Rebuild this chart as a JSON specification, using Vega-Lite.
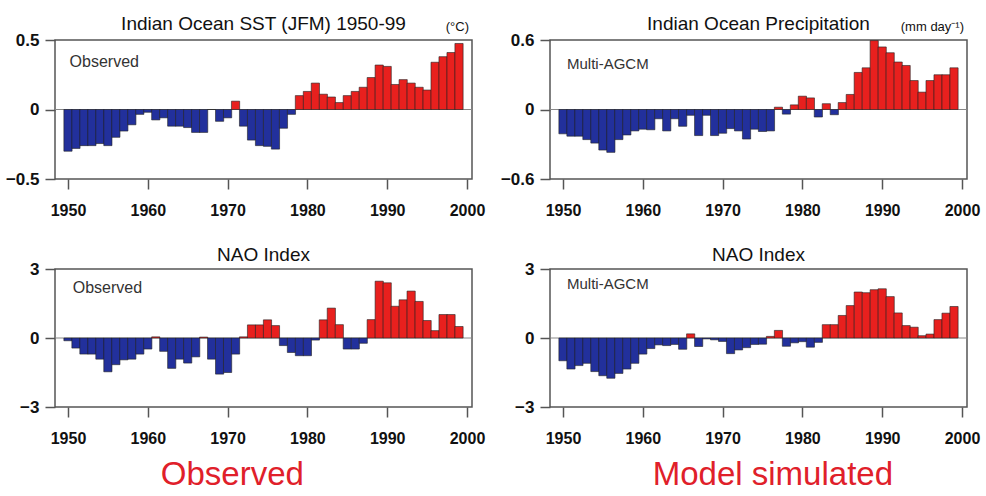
{
  "$schema": "https://vega.github.io/schema/vega-lite/v6.json",
  "background": "white",
  "padding": {"left": 4, "top": 14, "right": 5, "bottom": 5},
  "spacing": 13,
  "config": {
    "view": {"stroke": "#555", "strokeWidth": 1.5},
    "font": "Liberation Sans",
    "axis": {"domain": false, "grid": false, "tickColor": "#555", "tickWidth": 1.5, "tickSize": 10, "labelColor": "#111", "labelFont": "Liberation Sans", "labelFontSize": 16, "labelFontWeight": "bold"},
    "axisY": {"labelPadding": 6, "labelFontWeight": "bold", "labelFontSize": 17},
    "axisX": {"labelPadding": 13},
    "text": {"font": "Liberation Sans"}
  },
  "datasets": {
    "years": [
      {"year": 1950, "sst": -0.30, "pr": -0.21, "naoObs": -0.12, "naoMod": -0.99},
      {"year": 1951, "sst": -0.28, "pr": -0.23, "naoObs": -0.44, "naoMod": -1.35},
      {"year": 1952, "sst": -0.26, "pr": -0.23, "naoObs": -0.70, "naoMod": -1.20},
      {"year": 1953, "sst": -0.26, "pr": -0.26, "naoObs": -0.70, "naoMod": -1.10},
      {"year": 1954, "sst": -0.245, "pr": -0.29, "naoObs": -0.92, "naoMod": -1.46},
      {"year": 1955, "sst": -0.26, "pr": -0.35, "naoObs": -1.47, "naoMod": -1.64},
      {"year": 1956, "sst": -0.20, "pr": -0.37, "naoObs": -1.16, "naoMod": -1.75},
      {"year": 1957, "sst": -0.155, "pr": -0.26, "naoObs": -0.95, "naoMod": -1.54},
      {"year": 1958, "sst": -0.11, "pr": -0.22, "naoObs": -0.92, "naoMod": -1.35},
      {"year": 1959, "sst": -0.035, "pr": -0.185, "naoObs": -0.70, "naoMod": -1.10},
      {"year": 1960, "sst": -0.02, "pr": -0.17, "naoObs": -0.48, "naoMod": -0.70},
      {"year": 1961, "sst": -0.075, "pr": -0.175, "naoObs": 0.05, "naoMod": -0.46},
      {"year": 1962, "sst": -0.06, "pr": -0.08, "naoObs": -0.58, "naoMod": -0.30},
      {"year": 1963, "sst": -0.12, "pr": -0.185, "naoObs": -1.32, "naoMod": -0.33},
      {"year": 1964, "sst": -0.12, "pr": -0.08, "naoObs": -0.92, "naoMod": -0.28},
      {"year": 1965, "sst": -0.13, "pr": -0.145, "naoObs": -1.09, "naoMod": -0.49},
      {"year": 1966, "sst": -0.165, "pr": -0.05, "naoObs": -0.82, "naoMod": 0.18},
      {"year": 1967, "sst": -0.165, "pr": -0.225, "naoObs": 0.04, "naoMod": -0.37},
      {"year": 1968, "sst": 0.0, "pr": -0.05, "naoObs": -0.92, "naoMod": -0.04},
      {"year": 1969, "sst": -0.085, "pr": -0.225, "naoObs": -1.57, "naoMod": -0.08},
      {"year": 1970, "sst": -0.06, "pr": -0.205, "naoObs": -1.50, "naoMod": -0.15},
      {"year": 1971, "sst": 0.06, "pr": -0.165, "naoObs": -0.70, "naoMod": -0.68},
      {"year": 1972, "sst": -0.12, "pr": -0.185, "naoObs": 0.05, "naoMod": -0.52},
      {"year": 1973, "sst": -0.22, "pr": -0.255, "naoObs": 0.57, "naoMod": -0.42},
      {"year": 1974, "sst": -0.26, "pr": -0.17, "naoObs": 0.57, "naoMod": -0.28},
      {"year": 1975, "sst": -0.265, "pr": -0.19, "naoObs": 0.79, "naoMod": -0.27},
      {"year": 1976, "sst": -0.285, "pr": -0.185, "naoObs": 0.54, "naoMod": 0.07},
      {"year": 1977, "sst": -0.135, "pr": 0.02, "naoObs": -0.33, "naoMod": 0.33},
      {"year": 1978, "sst": -0.035, "pr": -0.04, "naoObs": -0.63, "naoMod": -0.36},
      {"year": 1979, "sst": 0.10, "pr": 0.04, "naoObs": -0.77, "naoMod": -0.21},
      {"year": 1980, "sst": 0.13, "pr": 0.115, "naoObs": -0.77, "naoMod": -0.16},
      {"year": 1981, "sst": 0.19, "pr": 0.10, "naoObs": -0.09, "naoMod": -0.40},
      {"year": 1982, "sst": 0.11, "pr": -0.065, "naoObs": 0.79, "naoMod": -0.19},
      {"year": 1983, "sst": 0.09, "pr": 0.05, "naoObs": 1.30, "naoMod": 0.58},
      {"year": 1984, "sst": 0.05, "pr": -0.045, "naoObs": 0.58, "naoMod": 0.58},
      {"year": 1985, "sst": 0.10, "pr": 0.06, "naoObs": -0.48, "naoMod": 0.98},
      {"year": 1986, "sst": 0.13, "pr": 0.13, "naoObs": -0.48, "naoMod": 1.41},
      {"year": 1987, "sst": 0.16, "pr": 0.32, "naoObs": -0.23, "naoMod": 2.00},
      {"year": 1988, "sst": 0.23, "pr": 0.36, "naoObs": 0.80, "naoMod": 1.97},
      {"year": 1989, "sst": 0.32, "pr": 0.595, "naoObs": 2.47, "naoMod": 2.10},
      {"year": 1990, "sst": 0.31, "pr": 0.54, "naoObs": 2.40, "naoMod": 2.14},
      {"year": 1991, "sst": 0.18, "pr": 0.49, "naoObs": 1.38, "naoMod": 1.80},
      {"year": 1992, "sst": 0.215, "pr": 0.41, "naoObs": 1.66, "naoMod": 1.09},
      {"year": 1993, "sst": 0.19, "pr": 0.38, "naoObs": 2.04, "naoMod": 0.54},
      {"year": 1994, "sst": 0.16, "pr": 0.25, "naoObs": 1.59, "naoMod": 0.47},
      {"year": 1995, "sst": 0.14, "pr": 0.15, "naoObs": 0.76, "naoMod": 0.10},
      {"year": 1996, "sst": 0.34, "pr": 0.25, "naoObs": 0.32, "naoMod": 0.17},
      {"year": 1997, "sst": 0.38, "pr": 0.30, "naoObs": 1.02, "naoMod": 0.80},
      {"year": 1998, "sst": 0.41, "pr": 0.30, "naoObs": 1.02, "naoMod": 1.08},
      {"year": 1999, "sst": 0.475, "pr": 0.36, "naoObs": 0.50, "naoMod": 1.37}
    ]
  },
  "hconcat": [
    {
      "spacing": 26,
      "vconcat": [
        {
          "width": 417, "height": 139,
          "layer": [
            {"data": {"values": [{"v": 0}]}, "mark": {"type": "rule", "color": "#888", "strokeWidth": 1}, "encoding": {"y": {"field": "v", "type": "quantitative", "scale": {"domain": [-0.5, 0.5], "nice": false}}}},
            {"data": {"name": "years"}, "mark": {"type": "bar", "size": 8.2, "stroke": "#222", "strokeWidth": 0.6},
             "encoding": {
               "x": {"field": "year", "type": "quantitative", "scale": {"domain": [1949, 2000], "nice": false, "zero": false}, "axis": {"title": null, "values": [1950, 1960, 1970, 1980, 1990, 2000], "format": "d"}},
               "y": {"field": "sst", "type": "quantitative", "scale": {"domain": [-0.5, 0.5], "nice": false}, "axis": {"title": null, "values": [-0.5, 0, 0.5], "format": ".1~f"}},
               "y2": {"datum": 0},
               "color": {"condition": {"test": "datum.sst > 0", "value": "#e8201e"}, "value": "#22309c"}
             }},
            {"data": {"values": [{"label": "Indian Ocean SST (JFM) 1950-99"}]}, "mark": {"type": "text", "align": "center", "baseline": "alphabetic", "fontSize": 19, "color": "#111", "dy": -10}, "encoding": {"x": {"datum": 1974.5}, "y": {"datum": 0.5}, "text": {"field": "label"}}},
            {"data": {"values": [{"label": "Observed"}]}, "mark": {"type": "text", "align": "left", "baseline": "middle", "fontSize": 16, "color": "#333"}, "encoding": {"x": {"datum": 1950.2}, "y": {"datum": 0.34}, "text": {"field": "label"}}},
            {"data": {"values": [{"label": "(°C)"}]}, "mark": {"type": "text", "align": "right", "baseline": "alphabetic", "fontSize": 13, "color": "#111", "dy": -9, "dx": 2}, "encoding": {"x": {"datum": 2000}, "y": {"datum": 0.5}, "text": {"field": "label"}}}
          ]
        },
        {
          "width": 417, "height": 138,
          "layer": [
            {"data": {"values": [{"v": 0}]}, "mark": {"type": "rule", "color": "#888", "strokeWidth": 1}, "encoding": {"y": {"field": "v", "type": "quantitative", "scale": {"domain": [-3, 3], "nice": false}}}},
            {"data": {"name": "years"}, "mark": {"type": "bar", "size": 8.2, "stroke": "#222", "strokeWidth": 0.6},
             "encoding": {
               "x": {"field": "year", "type": "quantitative", "scale": {"domain": [1949, 2000], "nice": false, "zero": false}, "axis": {"title": null, "values": [1950, 1960, 1970, 1980, 1990, 2000], "format": "d"}},
               "y": {"field": "naoObs", "type": "quantitative", "scale": {"domain": [-3, 3], "nice": false}, "axis": {"title": null, "values": [-3, 0, 3], "format": "d"}},
               "y2": {"datum": 0},
               "color": {"condition": {"test": "datum.naoObs > 0", "value": "#e8201e"}, "value": "#22309c"}
             }},
            {"data": {"values": [{"label": "NAO Index"}]}, "mark": {"type": "text", "align": "center", "baseline": "alphabetic", "fontSize": 19, "color": "#111", "dy": -8}, "encoding": {"x": {"datum": 1974.5}, "y": {"datum": 3}, "text": {"field": "label"}}},
            {"data": {"values": [{"label": "Observed"}]}, "mark": {"type": "text", "align": "left", "baseline": "middle", "fontSize": 16, "color": "#333"}, "encoding": {"x": {"datum": 1950.6}, "y": {"datum": 2.17}, "text": {"field": "label"}}},
            {"data": {"values": [{"label": "Observed"}]}, "mark": {"type": "text", "align": "center", "baseline": "alphabetic", "fontSize": 33, "color": "#e0202a", "dy": 78}, "encoding": {"x": {"datum": 1970.6}, "y": {"datum": -3}, "text": {"field": "label"}}}
          ]
        }
      ]
    },
    {
      "spacing": 26,
      "vconcat": [
        {
          "width": 417, "height": 139,
          "layer": [
            {"data": {"values": [{"v": 0}]}, "mark": {"type": "rule", "color": "#888", "strokeWidth": 1}, "encoding": {"y": {"field": "v", "type": "quantitative", "scale": {"domain": [-0.6, 0.6], "nice": false}}}},
            {"data": {"name": "years"}, "mark": {"type": "bar", "size": 8.2, "stroke": "#222", "strokeWidth": 0.6},
             "encoding": {
               "x": {"field": "year", "type": "quantitative", "scale": {"domain": [1949, 2000], "nice": false, "zero": false}, "axis": {"title": null, "values": [1950, 1960, 1970, 1980, 1990, 2000], "format": "d"}},
               "y": {"field": "pr", "type": "quantitative", "scale": {"domain": [-0.6, 0.6], "nice": false}, "axis": {"title": null, "values": [-0.6, 0, 0.6], "format": ".1~f"}},
               "y2": {"datum": 0},
               "color": {"condition": {"test": "datum.pr > 0", "value": "#e8201e"}, "value": "#22309c"}
             }},
            {"data": {"values": [{"label": "Indian Ocean Precipitation"}]}, "mark": {"type": "text", "align": "center", "baseline": "alphabetic", "fontSize": 19, "color": "#111", "dy": -10}, "encoding": {"x": {"datum": 1974.5}, "y": {"datum": 0.6}, "text": {"field": "label"}}},
            {"data": {"values": [{"label": "Multi-AGCM"}]}, "mark": {"type": "text", "align": "left", "baseline": "middle", "fontSize": 15, "color": "#333"}, "encoding": {"x": {"datum": 1950.5}, "y": {"datum": 0.39}, "text": {"field": "label"}}},
            {"data": {"values": [{"label": "(mm day⁻¹)"}]}, "mark": {"type": "text", "align": "right", "baseline": "alphabetic", "fontSize": 13, "color": "#111", "dy": -9, "dx": 2}, "encoding": {"x": {"datum": 2000}, "y": {"datum": 0.6}, "text": {"field": "label"}}}
          ]
        },
        {
          "width": 417, "height": 138,
          "layer": [
            {"data": {"values": [{"v": 0}]}, "mark": {"type": "rule", "color": "#888", "strokeWidth": 1}, "encoding": {"y": {"field": "v", "type": "quantitative", "scale": {"domain": [-3, 3], "nice": false}}}},
            {"data": {"name": "years"}, "mark": {"type": "bar", "size": 8.2, "stroke": "#222", "strokeWidth": 0.6},
             "encoding": {
               "x": {"field": "year", "type": "quantitative", "scale": {"domain": [1949, 2000], "nice": false, "zero": false}, "axis": {"title": null, "values": [1950, 1960, 1970, 1980, 1990, 2000], "format": "d"}},
               "y": {"field": "naoMod", "type": "quantitative", "scale": {"domain": [-3, 3], "nice": false}, "axis": {"title": null, "values": [-3, 0, 3], "format": "d"}},
               "y2": {"datum": 0},
               "color": {"condition": {"test": "datum.naoMod > 0", "value": "#e8201e"}, "value": "#22309c"}
             }},
            {"data": {"values": [{"label": "NAO Index"}]}, "mark": {"type": "text", "align": "center", "baseline": "alphabetic", "fontSize": 19, "color": "#111", "dy": -8}, "encoding": {"x": {"datum": 1974.5}, "y": {"datum": 3}, "text": {"field": "label"}}},
            {"data": {"values": [{"label": "Multi-AGCM"}]}, "mark": {"type": "text", "align": "left", "baseline": "middle", "fontSize": 15, "color": "#333"}, "encoding": {"x": {"datum": 1950.5}, "y": {"datum": 2.33}, "text": {"field": "label"}}},
            {"data": {"values": [{"label": "Model simulated"}]}, "mark": {"type": "text", "align": "center", "baseline": "alphabetic", "fontSize": 33, "color": "#e0202a", "dy": 78}, "encoding": {"x": {"datum": 1976.3}, "y": {"datum": -3}, "text": {"field": "label"}}}
          ]
        }
      ]
    }
  ]
}
